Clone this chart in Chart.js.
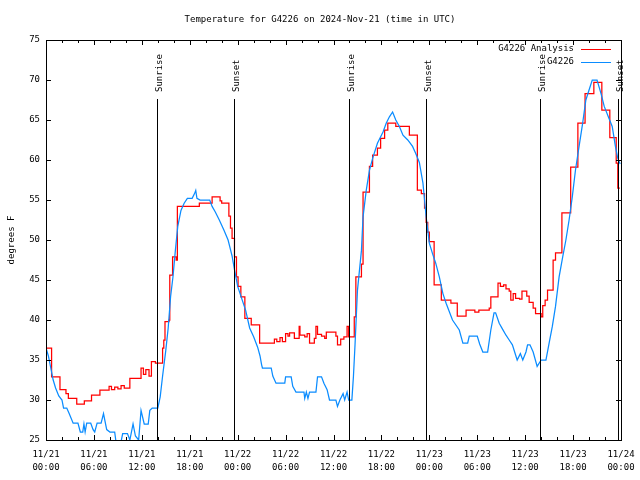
<!DOCTYPE html>
<html>
<head>
<meta charset="utf-8">
<title>Temperature for G4226</title>
<script src="https://cdn.jsdelivr.net/npm/chart.js@4.4.1/dist/chart.umd.min.js"></script>
<style>
    html, body { margin: 0; padding: 0; background: #fff; }
    #wrap { width: 640px; height: 480px; }
</style>
</head>
<body>
<div id="wrap"><canvas id="temp-chart" width="640" height="480"></canvas></div>
<script>
// Hours since 11/21 00:00 UTC and temperatures (deg F)
const analysisHours = [0.0, 0.7, 1.75, 2.5, 2.8, 3.85, 4.8, 5.7, 6.75, 7.9, 8.2, 8.6, 9.0, 9.4, 9.8, 10.5,
    11.9, 12.2, 12.5, 12.9, 13.2, 13.7, 14.6, 14.75, 14.9, 15.4, 15.5, 15.85, 16.3, 16.45, 19.2, 20.8,
    21.8, 22.0, 22.9, 23.1, 23.3, 23.6, 23.85, 24.05, 24.4, 24.9, 25.7, 26.75, 28.6, 28.9, 29.3, 29.6,
    30.0, 30.3, 30.5, 31.1, 31.7, 31.8, 32.4, 32.7, 33.0, 33.6, 33.8, 34.0, 34.5, 34.9, 35.1, 36.3,
    36.5, 36.9, 37.3, 37.7, 37.9, 38.6, 38.8, 39.5, 39.7, 40.5, 40.9, 41.5, 41.9, 42.4, 42.8, 43.8,
    45.5, 46.5, 47.0, 47.4, 47.6, 47.8, 48.0, 48.6, 49.5, 50.7, 51.5, 52.6, 53.7, 54.2, 55.5, 55.7,
    56.6, 56.9, 57.3, 57.6, 58.0, 58.2, 58.5, 58.8, 59.3, 59.6, 60.2, 60.5, 61.0, 61.3, 62.0, 62.2,
    62.5, 62.8, 63.5, 63.8, 64.6, 65.7, 66.6, 67.5, 68.6, 69.6, 70.6, 71.4, 71.6, 71.85];
const analysisTemps = [36.5, 32.9, 31.3, 30.8, 30.2, 29.5, 29.9, 30.6, 31.25, 31.7, 31.3, 31.6, 31.4, 31.8, 31.5, 32.7,
    34.0, 33.2, 33.8, 33.0, 34.8, 34.6, 36.5, 37.5, 39.8, 40.0, 45.6, 47.9, 47.5, 54.2, 54.6, 55.4,
    54.9, 54.6, 53.0, 51.5, 50.2, 47.9, 45.4, 44.2, 42.9, 40.2, 39.4, 37.1, 37.6, 37.3, 37.8, 37.3,
    38.3, 38.0, 38.4, 37.7, 39.2, 38.1, 37.9, 38.3, 37.1, 37.7, 39.2, 38.2, 38.0, 37.7, 38.5, 38.0,
    36.9, 37.6, 37.9, 39.2, 37.9, 40.4, 45.4, 47.0, 56.0, 59.2, 60.6, 61.5, 62.7, 63.75, 64.6, 64.2,
    63.1, 56.25, 55.8, 54.0, 52.2, 51.0, 49.8, 44.4, 42.5, 42.1, 40.5, 41.25, 41.0, 41.25, 41.5, 42.9,
    44.6, 44.2, 44.4, 43.9, 43.6, 42.5, 43.3, 42.7, 42.6, 43.6, 43.0, 42.2, 41.5, 40.8, 40.4, 41.8,
    42.5, 43.75, 47.5, 48.4, 53.4, 59.1, 64.6, 68.3, 69.7, 66.25, 62.8, 59.6, 56.5, 56.5];

const stationHours = [0.0, 0.3, 0.6, 0.9, 1.2, 1.6, 2.0, 2.2, 2.6, 2.9, 3.4, 4.0, 4.3, 4.6, 4.75, 4.9,
    5.1, 5.6, 5.9, 6.1, 6.4, 6.9, 7.2, 7.6, 8.0, 8.6, 8.8, 9.3, 9.6, 10.2, 10.5, 10.9, 11.2, 11.6,
    11.9, 12.3, 12.8, 13.0, 13.3, 14.0, 14.3, 14.6, 15.0, 15.3, 15.6, 15.9, 16.2, 16.5, 16.9, 17.3,
    17.7, 18.3, 18.6, 18.75, 18.9, 19.3, 20.5, 20.8, 21.2, 21.7, 22.3, 22.8, 23.0, 23.3, 23.6, 23.85,
    24.0, 24.5, 25.0, 25.5, 26.0, 26.5, 26.8, 27.0, 27.1, 28.2, 28.4, 28.8, 29.9, 30.0, 30.7, 30.9,
    31.3, 32.3, 32.4, 32.6, 32.8, 33.0, 33.8, 34.0, 34.5, 34.8, 35.2, 35.5, 36.3, 36.5, 36.8, 37.2,
    37.4, 37.7, 37.9, 38.3, 38.5, 38.7, 39.0, 39.5, 39.7, 40.1, 40.5, 40.9, 41.5, 42.2, 42.6, 43.0,
    43.4, 43.8, 44.25, 44.7, 45.3, 45.9, 46.3, 46.75, 47.2, 47.6, 48.0, 48.4, 48.8, 49.25, 49.7, 50.1,
    50.9, 51.75, 52.2, 52.8, 53.0, 54.0, 54.3, 54.7, 55.3, 55.7, 56.1, 56.3, 56.75, 57.2, 57.6, 58.0,
    58.4, 59.0, 59.4, 59.7, 60.1, 60.3, 60.6, 61.0, 61.5, 62.0, 62.6, 63.0, 63.4, 63.8, 64.25, 64.7,
    65.1, 65.5, 65.9, 66.3, 66.75, 67.2, 67.6, 68.0, 68.4, 69.0, 69.5, 69.9, 70.5, 70.9, 71.3, 71.6, 71.9];
const stationTemps = [36.5, 35.5, 34.0, 32.5, 31.5, 30.5, 30.0, 29.0, 29.0, 28.3, 27.1, 27.1, 26.0, 26.0, 27.0, 26.0,
    27.1, 27.1, 26.3, 26.0, 27.1, 27.1, 28.3, 26.3, 26.0, 26.0, 24.5, 24.3, 25.8, 25.8, 25.0, 27.0, 25.5, 25.0,
    28.7, 27.0, 27.0, 28.7, 29.0, 29.0, 30.4, 33.0, 36.2, 39.0, 42.9, 45.4, 48.7, 51.7, 53.7, 54.6,
    55.2, 55.2, 55.8, 56.2, 55.2, 55.0, 55.0, 54.2, 53.5, 52.5, 51.2, 50.0, 49.2, 48.0, 46.3, 45.0,
    44.2, 42.7, 41.2, 39.0, 37.9, 36.6, 35.5, 34.4, 34.0, 34.0, 33.0, 32.1, 32.1, 32.9, 32.9, 31.7,
    31.0, 31.0, 30.2, 31.0, 30.2, 31.0, 31.0, 32.9, 32.9, 32.1, 31.3, 30.0, 30.0, 29.2, 30.0, 30.8,
    30.0, 31.0, 30.0, 30.0, 33.0, 37.0, 43.7, 48.7, 52.9, 56.2, 58.7, 60.2, 62.1, 63.5, 64.6, 65.4,
    66.0, 65.0, 64.2, 63.1, 62.5, 61.7, 60.8, 59.7, 57.1, 52.9, 49.6, 48.3, 47.1, 45.4, 43.3, 42.1,
    40.0, 38.75, 37.1, 37.1, 38.0, 38.0, 37.0, 36.0, 36.0, 38.75, 40.9, 40.9, 39.6, 38.8, 38.1, 37.5,
    36.9, 35.0, 35.8, 35.0, 36.0, 36.9, 36.9, 36.0, 34.2, 35.0, 35.0, 37.1, 39.2, 41.7, 45.4, 47.9,
    50.0, 52.5, 55.4, 58.75, 61.7, 64.6, 67.5, 68.75, 70.0, 70.0, 68.3, 66.7, 65.2, 64.2, 61.7, 60.2, 59.5];

// Sunrise / sunset (hours since 11/21 00:00 UTC)
const sunriseHours = [13.9, 37.9, 61.9];
const sunsetHours = [23.55, 47.55, 71.6];

// Tick labels, one every 6 hours
const tickDates = ['11/21', '11/21', '11/21', '11/21', '11/22', '11/22', '11/22', '11/22',
    '11/23', '11/23', '11/23', '11/23', '11/24'];
const tickTimes = ['00:00', '06:00', '12:00', '18:00', '00:00', '06:00', '12:00', '18:00',
    '00:00', '06:00', '12:00', '18:00', '00:00'];

const FONT = '"DejaVu Sans Mono", monospace';
const RED = '#ff0000';
const BLUE = '#0a8cff';

// gnuplot-like decorations: box, inward ticks, sun lines, legend, titles
const gnuplotDecor = {
    id: 'gnuplotDecor',
    afterDatasetsDraw(chart) {
        const ctx = chart.ctx;
        const area = chart.chartArea;
        const xs = chart.scales.x;
        const ys = chart.scales.y;
        ctx.save();
        ctx.strokeStyle = '#000';
        ctx.lineWidth = 1;

        // Border box
        ctx.strokeRect(Math.round(area.left) + 0.5, Math.round(area.top) + 0.5,
            Math.round(area.right - area.left), Math.round(area.bottom - area.top));

        ctx.beginPath();
        // Y ticks (left and right, inward)
        for (let v = ys.min; v <= ys.max; v += 5) {
            const y = Math.round(ys.getPixelForValue(v)) + 0.5;
            ctx.moveTo(area.left, y); ctx.lineTo(area.left + 5, y);
            ctx.moveTo(area.right, y); ctx.lineTo(area.right - 5, y);
        }
        // X ticks every 2 hours, longer every 6
        for (let h = xs.min; h <= xs.max; h += 2) {
            const x = Math.round(xs.getPixelForValue(h)) + 0.5;
            const len = h % 6 === 0 ? 5 : 3;
            ctx.moveTo(x, area.bottom); ctx.lineTo(x, area.bottom - len);
            ctx.moveTo(x, area.top); ctx.lineTo(x, area.top + len);
        }
        ctx.stroke();

        // Sunrise / sunset lines with vertical labels
        ctx.font = '9px ' + FONT;
        ctx.fillStyle = '#000';
        const drawSun = (h, label) => {
            const x = Math.round(xs.getPixelForValue(h)) + 0.5;
            ctx.beginPath();
            ctx.moveTo(x, 99);
            ctx.lineTo(x, area.bottom);
            ctx.stroke();
            ctx.save();
            ctx.translate(x + 2, 92);
            ctx.rotate(-Math.PI / 2);
            ctx.textAlign = 'left';
            ctx.textBaseline = 'middle';
            ctx.fillText(label, 0, 0);
            ctx.restore();
        };
        sunriseHours.forEach(h => drawSun(h, 'Sunrise'));
        sunsetHours.forEach(h => drawSun(h, 'Sunset'));

        // Legend (text then line sample)
        ctx.textAlign = 'right';
        ctx.textBaseline = 'middle';
        chart.data.datasets.forEach((ds, i) => {
            const y = 49 + i * 13;
            ctx.fillStyle = '#000';
            ctx.fillText(ds.label, 574, y);
            ctx.strokeStyle = ds.borderColor;
            ctx.beginPath();
            ctx.moveTo(581, y + 0.5);
            ctx.lineTo(611, y + 0.5);
            ctx.stroke();
        });

        // Title and y-axis title
        ctx.fillStyle = '#000';
        ctx.textAlign = 'center';
        ctx.fillText('Temperature for G4226 on 2024-Nov-21 (time in UTC)', 320, 20);
        ctx.save();
        ctx.translate(12, 240);
        ctx.rotate(-Math.PI / 2);
        ctx.fillText('degrees F', 0, 0);
        ctx.restore();
        ctx.restore();
    }
};

function toPoints(hours, temps) {
    return hours.map((h, i) => ({ x: h, y: temps[i] }));
}

function initChart() {
    const ctx = document.getElementById('temp-chart').getContext('2d');
    new Chart(ctx, {
        type: 'line',
        data: {
            datasets: [{
                label: 'G4226 Analysis',
                data: toPoints(analysisHours, analysisTemps),
                borderColor: RED,
                borderWidth: 1.25,
                pointRadius: 0,
                stepped: true,
                order: 1
            }, {
                label: 'G4226',
                data: toPoints(stationHours, stationTemps),
                borderColor: BLUE,
                borderWidth: 1.25,
                pointRadius: 0,
                tension: 0,
                order: 0
            }]
        },
        options: {
            responsive: false,
            animation: false,
            devicePixelRatio: 1,
            layout: { padding: { top: 40, right: 19, left: 0, bottom: 0 } },
            plugins: {
                legend: { display: false },
                title: { display: false },
                tooltip: { enabled: false }
            },
            scales: {
                x: {
                    type: 'linear',
                    min: 0,
                    max: 72,
                    afterFit: scale => {
                        scale.height = 40;
                        scale.paddingLeft = 0;
                        scale.paddingRight = 0;
                    },
                    grid: { display: false, drawTicks: false },
                    border: { display: false },
                    ticks: {
                        stepSize: 6,
                        autoSkip: false,
                        maxRotation: 0,
                        padding: 8,
                        color: '#000',
                        font: { family: FONT, size: 9, lineHeight: 1.45 },
                        callback: value => [tickDates[value / 6], tickTimes[value / 6]]
                    }
                },
                y: {
                    min: 25,
                    max: 75,
                    afterFit: scale => { scale.width = 46; },
                    grid: { display: false, drawTicks: false },
                    border: { display: false },
                    ticks: {
                        stepSize: 5,
                        padding: 6,
                        color: '#000',
                        font: { family: FONT, size: 9 }
                    }
                }
            }
        },
        plugins: [gnuplotDecor]
    });
}

document.addEventListener('DOMContentLoaded', initChart);
</script>
</body>
</html>
